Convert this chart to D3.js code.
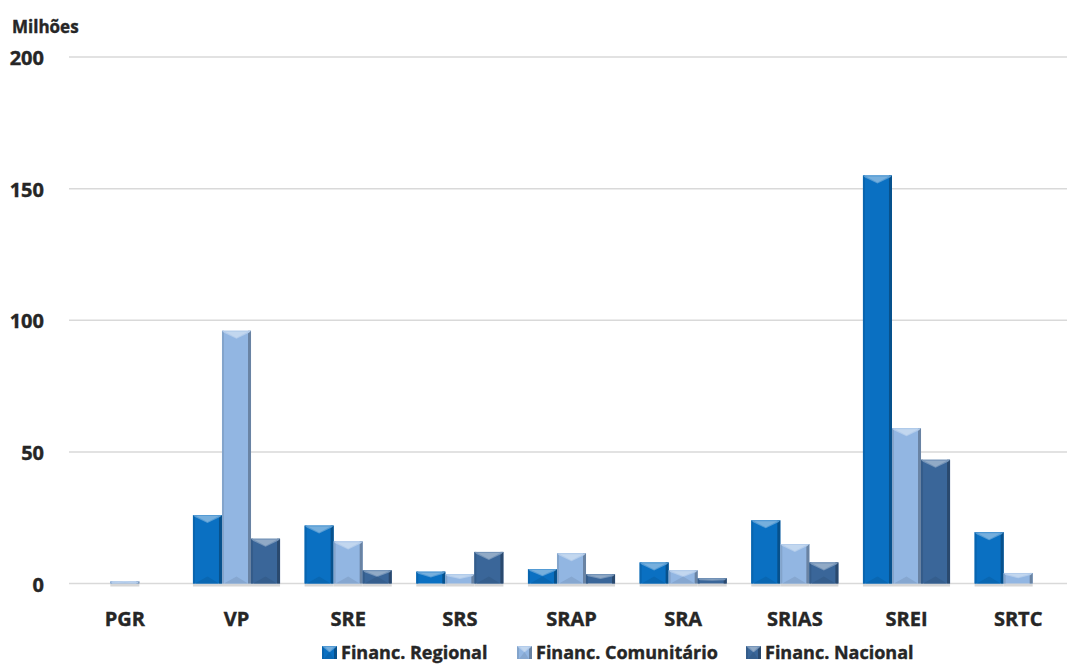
<!DOCTYPE html>
<html>
<head>
<meta charset="utf-8">
<script src="https://cdn.jsdelivr.net/npm/d3@7"></script>
<style>
  body { margin: 0; background: #fff; }
  text { font-family: "Open Sans", sans-serif; font-weight: 700; fill: #262626;
         stroke: #262626; stroke-width: 0.4px; }
</style>
</head>
<body>
<svg id="chart" width="1075" height="664"></svg>
<script>
// data (millions)
const categories = ["PGR", "VP", "SRE", "SRS", "SRAP", "SRA", "SRIAS", "SREI", "SRTC"];
const regional    = [0,   26,  22, 4.5, 5.5, 8,   24, 155, 19.5];
const comunitario = [0.8, 96,  16, 3.5, 11.5, 5,  15, 59,  4];
const nacional    = [0,   17,  5,  12,  3.5, 2,   8,  47,  0];
const seriesNames = ["Financ. Regional", "Financ. Comunitário", "Financ. Nacional"];
const yTicks = [0, 50, 100, 150, 200];

const colors = ["#0a70c2", "#92b6e2", "#3a6699"];

const width = 1075, height = 664;
const margin = { top: 57, right: 1, bottom: 80, left: 69 };

const svg = d3.select("#chart");

const x = d3.scaleBand()
  .domain(categories)
  .range([margin.left, width - margin.right])
  .paddingInner(0.22)
  .paddingOuter(0.11);

const x1 = d3.scaleBand()
  .domain(seriesNames)
  .range([0, x.bandwidth()]);

const y = d3.scaleLinear()
  .domain([0, 200])
  .range([height - margin.bottom - 0.5, margin.top]);

// gridlines
svg.append("g")
  .selectAll("line")
  .data(yTicks)
  .join("line")
  .attr("x1", margin.left)
  .attr("x2", width - 8)
  .attr("y1", d => y(d))
  .attr("y2", d => y(d))
  .attr("stroke", "#d9d9d9")
  .attr("stroke-width", 1.5);

// y labels
svg.append("g")
  .selectAll("text")
  .data(yTicks)
  .join("text")
  .attr("x", 44)
  .attr("y", d => y(d) + 8)
  .attr("text-anchor", "end")
  .attr("font-size", 20)
  .text(d => d);

svg.append("text")
  .attr("x", 12)
  .attr("y", 33)
  .attr("font-size", 17)
  .text("Milhões");

const rows = categories.map((c, i) => ({
  cat: c,
  vals: [regional[i], comunitario[i], nacional[i]]
}));

const lighten = (c, k) => d3.interpolateRgb(c, "#ffffff")(k);
const darken = (c, k) => d3.interpolateRgb(c, "#000000")(k);

// beveled bar: body, light top chevron, darker edges
function bevelBar(g, bx, by, bw, bh, color) {
  if (bh <= 0) return;
  const b = Math.min(8, bh / 2, bw / 2);
  g.append("rect")
    .attr("x", bx).attr("y", by).attr("width", bw).attr("height", bh)
    .attr("fill", color);
  // right edge shade
  g.append("rect")
    .attr("x", bx + bw - 3).attr("y", by).attr("width", 3).attr("height", bh)
    .attr("fill", darken(color, 0.28));
  // left edge
  g.append("rect")
    .attr("x", bx).attr("y", by).attr("width", 2).attr("height", bh)
    .attr("fill", darken(color, 0.1));
  // top chevron
  g.append("polygon")
    .attr("points", [
      [bx, by], [bx + bw, by], [bx + bw - 2, by + 2], [bx + bw / 2, by + b], [bx + 2, by + 2]
    ].map(p => p.join(",")).join(" "))
    .attr("fill", lighten(color, 0.3));
  g.append("polygon")
    .attr("points", [
      [bx + 3, by + 1], [bx + bw - 3, by + 1], [bx + bw / 2, by + b - 1]
    ].map(p => p.join(",")).join(" "))
    .attr("fill", lighten(color, 0.5))
    .attr("opacity", 0.7);
  // bottom subtle shade
  if (bh > 12) {
    g.append("polygon")
      .attr("points", [
        [bx + 2, by + bh], [bx + bw / 2, by + bh - 7], [bx + bw - 3, by + bh]
      ].map(p => p.join(",")).join(" "))
      .attr("fill", darken(color, 0.08));
  }
}

const groups = svg.append("g")
  .selectAll("g")
  .data(rows)
  .join("g")
  .attr("transform", d => `translate(${x(d.cat)},0)`);

groups.each(function(d) {
  const g = d3.select(this);
  d.vals.forEach((v, j) => {
    if (v <= 0) return;
    const bx = x1(seriesNames[j]);
    const bw = x1.bandwidth();
    // shadow under bar
    g.append("rect")
      .attr("x", bx).attr("y", y(0)).attr("width", bw).attr("height", 3)
      .attr("fill", "#d6d6d6");
    let top = y(v), h = y(0) - y(v);
    if (h < 2) { top = y(0) - 2; h = 2; }
    bevelBar(g, bx, top, bw, h, colors[j]);
  });
});

// category labels
svg.append("g")
  .selectAll("text")
  .data(categories)
  .join("text")
  .attr("x", d => x(d) + x.bandwidth() / 2)
  .attr("y", 626)
  .attr("text-anchor", "middle")
  .attr("font-size", 20)
  .text(d => d);

// legend
const legendX = [322, 517, 746];
const legend = svg.append("g")
  .selectAll("g")
  .data(seriesNames)
  .join("g")
  .attr("transform", (d, i) => `translate(${legendX[i]},646)`);

legend.each(function(d, i) {
  const g = d3.select(this);
  bevelBar(g, 0, 0, 15, 13, colors[i]);
  g.append("text")
    .attr("x", 19)
    .attr("y", 13)
    .attr("font-size", 18)
    .text(d);
});
</script>
</body>
</html>
